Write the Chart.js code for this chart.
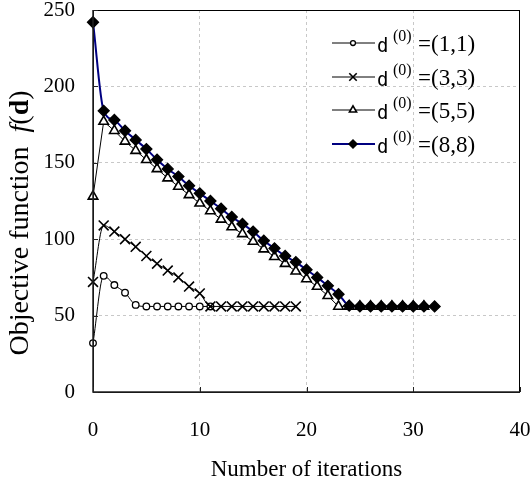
<!DOCTYPE html>
<html>
<head>
<meta charset="utf-8">
<script src="https://cdn.jsdelivr.net/npm/chart.js@4.4.1/dist/chart.umd.min.js"></script>
<style>
  html, body { margin: 0; padding: 0; background: #fff; }
</style>
</head>
<body>
<canvas id="c" width="532" height="486"></canvas>
<script>
// iteration numbers (x axis)
const iterations = [0, 1, 2, 3, 4, 5, 6, 7, 8, 9, 10, 11, 12, 13, 14, 15, 16,
  17, 18, 19, 20, 21, 22, 23, 24, 25, 26, 27, 28, 29, 30, 31, 32]

// starting points, used in legend
const startPoints = ['(1,1)', '(3,3)', '(5,5)', '(8,8)']

// objective function values f(d), one per iteration
const f11 = [32, 76, 70, 65, 57, 56, 56, 56, 56, 56, 56, 56]
const f33 = [72, 109, 105, 100, 95, 89, 84, 79.5, 75, 69, 64.5, 56, 56, 56, 56,
  56, 56, 56, 56, 56]
const f55 = [128, 177, 171, 164, 158, 152, 146, 140, 134.5, 129, 123.5, 118.5,
  113, 108, 103.5, 98.5, 93.5, 88.5, 84, 79, 74, 69, 63, 56, 56, 56, 56, 56,
  56, 56, 56, 56]
const f88 = [242, 184, 178, 171, 165, 159, 152, 146, 141, 135, 130, 125, 120,
  114.5, 110, 105, 99, 94, 89, 85, 80, 75, 69.5, 64, 56.5, 56, 56, 56, 56, 56,
  56, 56, 56]

const xTicks = [0, 10, 20, 30, 40]
const yTicks = [0, 50, 100, 150, 200, 250]

const SERIF = '"Liberation Serif", "Times New Roman", serif'

const toPoints = (vals) => vals.map((v, i) => ({ x: iterations[i], y: v }))

// frame, inner tick marks and axis titles
const framePlugin = {
  id: 'frame',
  afterDraw: (chart) => {
    const { ctx, chartArea: a, scales } = chart
    ctx.save()
    ctx.strokeStyle = '#000'
    ctx.lineWidth = 1
    ctx.strokeRect(a.left + 0.5, a.top + 0.5, a.right - a.left - 1, a.bottom - a.top)
    ctx.lineWidth = 1.5
    ctx.strokeStyle = '#222'
    ctx.beginPath()
    ctx.moveTo(a.left, a.top)
    ctx.lineTo(a.left, a.bottom)
    ctx.lineTo(a.right, a.bottom)
    ctx.stroke()
    ctx.lineWidth = 1
    ctx.beginPath()
    yTicks.forEach(v => {
      const y = Math.round(scales.y.getPixelForValue(v)) + 0.5
      ctx.moveTo(a.left, y)
      ctx.lineTo(a.left + 5, y)
    })
    xTicks.forEach(v => {
      const x = Math.round(scales.x.getPixelForValue(v)) + 0.5
      ctx.moveTo(x, a.bottom)
      ctx.lineTo(x, a.bottom - 5)
    })
    ctx.stroke()

    // x title
    ctx.fillStyle = '#000'
    ctx.font = '23px ' + SERIF
    ctx.textAlign = 'center'
    ctx.textBaseline = 'middle'
    ctx.fillText('Number of iterations', (a.left + a.right) / 2, 470)

    // y title with mixed fonts
    const parts = [
      ['Objective function  ', '28px ' + SERIF],
      ['f', 'italic 28px ' + SERIF],
      ['(', '28px ' + SERIF],
      ['d', 'bold 28px ' + SERIF],
      [')', '28px ' + SERIF],
    ]
    let total = 0
    parts.forEach(p => { ctx.font = p[1]; total += ctx.measureText(p[0]).width })
    ctx.translate(21, 223)
    ctx.rotate(-Math.PI / 2)
    ctx.textAlign = 'left'
    let x = -total / 2
    parts.forEach(p => {
      ctx.font = p[1]
      ctx.fillText(p[0], x, 0)
      x += ctx.measureText(p[0]).width
    })
    ctx.restore()
  }
}

// legend: line with marker, then d^(0) =(a,b)
const legendPlugin = {
  id: 'lineLegend',
  afterDraw: (chart) => {
    const { ctx } = chart
    const rows = [43, 77, 110, 144]
    ctx.save()
    chart.data.datasets.forEach((ds, i) => {
      const y = rows[i]
      ctx.strokeStyle = ds.borderColor
      ctx.lineWidth = ds.borderWidth
      ctx.beginPath()
      ctx.moveTo(332, y)
      ctx.lineTo(375, y)
      ctx.stroke()
      ctx.strokeStyle = ds.pointBorderColor
      ctx.fillStyle = ds.pointBackgroundColor
      ctx.lineWidth = ds.pointBorderWidth
      Chart.helpers.drawPoint(ctx, {
        pointStyle: ds.pointStyle,
        radius: ds.pointRadius * 0.75,
        rotation: 0,
        borderWidth: ds.pointBorderWidth,
      }, 353, y)

      ctx.fillStyle = '#000'
      ctx.textAlign = 'left'
      ctx.textBaseline = 'alphabetic'
      ctx.font = '19px "DejaVu Sans Mono", monospace'
      ctx.fillText('d', 377, y + 9)
      ctx.font = '16px ' + SERIF
      ctx.fillText('(0)', 393, y - 2)
      ctx.font = '23px ' + SERIF
      ctx.fillText('=' + startPoints[i], 418, y + 8)
    })
    ctx.restore()
  }
}

const common = {
  type: 'line',
  borderColor: '#000',
  borderWidth: 1,
  pointBorderColor: '#000',
  pointBorderWidth: 1.3,
  pointHoverRadius: 0,
  clip: false,
  fill: false,
}

// keep the plot box fixed, no extra room for overhanging labels
const noPad = (s) => {
  s.paddingLeft = 0
  s.paddingRight = 0
  s.paddingTop = 0
  s.paddingBottom = 0
}

new Chart(document.getElementById('c'), {
  type: 'scatter',
  data: {
    datasets: [
      Object.assign({}, common, {
        label: 'd(0)=' + startPoints[0],
        data: toPoints(f11),
        pointStyle: 'circle',
        pointRadius: 3.3,
        pointBackgroundColor: '#fff',
        cubicInterpolationMode: 'monotone',
        order: 3,
      }),
      Object.assign({}, common, {
        label: 'd(0)=' + startPoints[1],
        data: toPoints(f33),
        pointStyle: 'crossRot',
        pointRadius: 7,
        pointBorderWidth: 1.6,
        pointBackgroundColor: '#fff',
        cubicInterpolationMode: 'monotone',
        order: 2,
      }),
      Object.assign({}, common, {
        label: 'd(0)=' + startPoints[2],
        data: toPoints(f55),
        pointStyle: 'triangle',
        pointRadius: 5.5,
        pointBorderWidth: 1.6,
        pointBackgroundColor: '#fff',
        tension: 0,
        order: 1,
      }),
      Object.assign({}, common, {
        label: 'd(0)=' + startPoints[3],
        data: toPoints(f88),
        borderColor: '#000080',
        borderWidth: 2,
        pointStyle: 'rectRot',
        pointRadius: 5.5,
        pointBackgroundColor: '#000',
        cubicInterpolationMode: 'monotone',
        order: 0,
      }),
    ]
  },
  options: {
    responsive: false,
    animation: false,
    events: [],
    layout: { padding: { top: 10, right: 12, left: 0, bottom: 0 } },
    plugins: {
      legend: { display: false },
      tooltip: { enabled: false },
    },
    scales: {
      x: {
        type: 'linear',
        min: 0,
        max: 40,
        afterFit: (s) => { s.height = 94; noPad(s) },
        afterBuildTicks: (s) => { s.ticks = xTicks.map(v => ({ value: v })) },
        ticks: {
          color: '#000',
          padding: 26,
          font: { family: SERIF, size: 21 },
        },
        grid: {
          color: (c) => (c.tick && (c.tick.value === 0 || c.tick.value === 40)) ? 'rgba(0,0,0,0)' : '#c8c8c8',
          drawTicks: false,
        },
        border: { display: false, dash: [3, 3] },
      },
      y: {
        type: 'linear',
        min: 0,
        max: 250,
        afterFit: (s) => { s.width = 93; noPad(s) },
        afterBuildTicks: (s) => { s.ticks = yTicks.map(v => ({ value: v })) },
        ticks: {
          color: '#000',
          padding: 18,
          font: { family: SERIF, size: 21 },
        },
        grid: {
          color: (c) => (c.tick && (c.tick.value === 0 || c.tick.value === 250)) ? 'rgba(0,0,0,0)' : '#c8c8c8',
          drawTicks: false,
        },
        border: { display: false, dash: [3, 3] },
      },
    },
  },
  plugins: [framePlugin, legendPlugin],
})
</script>
</body>
</html>
